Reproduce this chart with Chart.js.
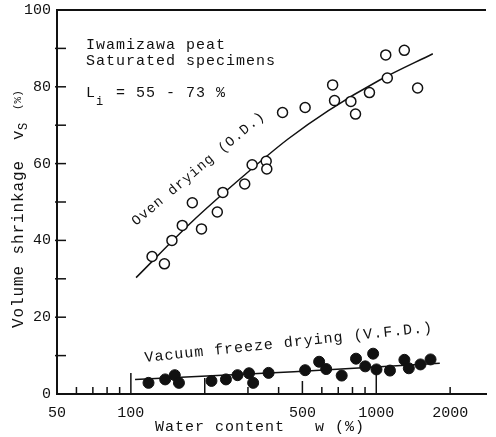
<!DOCTYPE html>
<html lang="en">
<head>
    <meta charset="UTF-8">
    <title>Volume shrinkage vs water content</title>
    <script src="https://cdn.jsdelivr.net/npm/chart.js"></script>
    <style>
        html, body { margin: 0; padding: 0; background: #fff; }
    </style>
</head>
<body>
    <canvas id="myChart" width="496" height="437"></canvas>
    <script>
        // oven drying (O.D.) - open circles
        const odWater  = [122, 137, 147, 162, 178, 194, 225, 237, 291, 312, 356, 358, 415, 513, 664, 676, 788, 823, 938, 1109, 1093, 1301, 1474];
        const odShrink = [35.8, 33.9, 40.0, 43.9, 49.8, 43.0, 47.4, 52.5, 54.7, 59.7, 60.6, 58.6, 73.3, 74.6, 80.5, 76.4, 76.2, 72.9, 78.5, 82.3, 88.3, 89.5, 79.7];

        // vacuum freeze drying (V.F.D.) - solid circles
        const vfdWater  = [118, 138, 151, 157, 213, 244, 272, 303, 315, 364, 513, 585, 625, 723, 827, 902, 971, 1002, 1137, 1302, 1357, 1514, 1664];
        const vfdShrink = [2.9, 3.8, 4.9, 2.9, 3.4, 3.8, 4.9, 5.4, 2.9, 5.5, 6.2, 8.4, 6.5, 4.8, 9.2, 7.2, 10.5, 6.4, 6.1, 8.9, 6.7, 7.7, 9.0];

        // hand drawn trend lines
        const odFitWater  = [105, 177, 289, 437, 638, 1029, 1700];
        const odFitShrink = [30.3, 44.8, 56.9, 66.4, 73.8, 81.7, 88.6];
        const vfdFitWater  = [104, 462, 1815];
        const vfdFitShrink = [3.8, 5.8, 8.0];

        // axis labels / tick marks
        const xLabels = [50, 100, 500, 1000, 2000];
        const xMarks  = [60, 70, 80, 90, 100, 200, 300, 400, 500, 600, 700, 800, 900, 1000, 2000];
        const yMarks  = [10, 20, 30, 40, 50, 60, 70, 80, 90];

        const pts = (xs, ys) => xs.map((v, i) => ({ x: v, y: ys[i] }));
        const MONO = "'Liberation Mono', 'DejaVu Sans Mono', monospace";
        const INK = '#111';

        function say(ctx, s, x, y, size, angle, spacing) {
            ctx.save();
            ctx.translate(x, y);
            if (angle) ctx.rotate(angle * Math.PI / 180);
            ctx.font = size + 'px ' + MONO;
            ctx.letterSpacing = (spacing || 0) + 'px';
            ctx.fillText(s, 0, 0);
            ctx.restore();
        }

        // frame top, inner ticks and all the typed text
        const decor = {
            id: 'decor',
            afterDraw(chart) {
                const { ctx, chartArea: a, scales: { x, y } } = chart;
                ctx.save();
                ctx.strokeStyle = INK;
                ctx.fillStyle = INK;
                ctx.lineWidth = 2;
                ctx.beginPath();
                ctx.moveTo(a.left - 1, a.top);
                ctx.lineTo(a.right, a.top);
                ctx.stroke();

                ctx.lineWidth = 1.5;
                const longer = { 100: 21, 200: 16, 500: 13, 1000: 24 };
                xMarks.forEach(v => {
                    const px = x.getPixelForValue(v);
                    ctx.beginPath();
                    ctx.moveTo(px, a.bottom);
                    ctx.lineTo(px, a.bottom - (longer[v] || 7));
                    ctx.stroke();
                });
                yMarks.forEach(v => {
                    const py = y.getPixelForValue(v);
                    ctx.beginPath();
                    ctx.moveTo(a.left - 2, py);
                    ctx.lineTo(a.left + 9, py);
                    ctx.stroke();
                });

                ctx.textBaseline = 'alphabetic';
                say(ctx, 'Iwamizawa peat', 86, 49, 15, 0, 1);
                say(ctx, 'Saturated specimens', 86, 65, 15, 0, 1);
                say(ctx, 'L', 86, 97, 15, 0, 1);
                say(ctx, 'i', 96, 105, 12, 0, 0);
                say(ctx, '= 55 - 73 %', 116, 97, 15, 0, 1);

                say(ctx, 'Oven drying (O.D.)', 136, 226, 14, -40, 1);
                say(ctx, 'Vacuum freeze drying (V.F.D.)', 145, 362, 15, -6, 1);

                say(ctx, 'Water content   w (%)', 155, 431, 15, 0, 1);

                // vertical axis title with subscript
                ctx.save();
                ctx.translate(23, 328);
                ctx.rotate(-Math.PI / 2);
                say(ctx, 'Volume shrinkage', 0, 0, 16, 0, 0.9);
                say(ctx, 'v', 188, 0, 16, 0, 0);
                say(ctx, 'S', 198, 4, 12, 0, 0);
                say(ctx, '(%)', 218, -2, 11, 0, 0);
                ctx.restore();

                ctx.restore();
            }
        };

        const ctx = document.getElementById('myChart').getContext('2d');
        new Chart(ctx, {
            type: 'scatter',
            data: {
                datasets: [
                    {
                        label: 'O.D.',
                        data: pts(odWater, odShrink),
                        pointRadius: 5,
                        pointBorderWidth: 1.5,
                        pointBorderColor: INK,
                        pointBackgroundColor: '#fff',
                        order: 0
                    },
                    {
                        label: 'V.F.D.',
                        data: pts(vfdWater, vfdShrink),
                        pointRadius: 5.5,
                        pointBorderWidth: 1,
                        pointBorderColor: INK,
                        pointBackgroundColor: INK,
                        order: 0
                    },
                    {
                        label: 'O.D. fit',
                        data: pts(odFitWater, odFitShrink),
                        showLine: true,
                        pointRadius: 0,
                        borderColor: INK,
                        borderWidth: 1.5,
                        cubicInterpolationMode: 'monotone',
                        order: 1
                    },
                    {
                        label: 'V.F.D. fit',
                        data: pts(vfdFitWater, vfdFitShrink),
                        showLine: true,
                        pointRadius: 0,
                        borderColor: INK,
                        borderWidth: 1.5,
                        order: 1
                    }
                ]
            },
            options: {
                responsive: false,
                animation: false,
                layout: { padding: { top: 10, right: 0, left: 0, bottom: 0 } },
                plugins: { legend: { display: false }, tooltip: { enabled: false } },
                scales: {
                    x: {
                        type: 'logarithmic',
                        min: 50,
                        max: 2800,
                        grid: { display: false, drawTicks: false },
                        border: { color: INK, width: 2 },
                        ticks: {
                            autoSkip: false,
                            maxRotation: 0,
                            padding: 10,
                            color: INK,
                            font: { family: MONO, size: 15 },
                            callback: v => xLabels.includes(Math.round(v)) ? String(Math.round(v)) : ''
                        },
                        afterFit: s => { s.height = 43; }
                    },
                    y: {
                        min: 0,
                        max: 100,
                        grid: { display: false, drawTicks: false },
                        border: { color: INK, width: 2 },
                        ticks: {
                            stepSize: 20,
                            padding: 6,
                            color: INK,
                            font: { family: MONO, size: 15 }
                        },
                        afterFit: s => { s.width = 57; s.paddingTop = 0; s.paddingBottom = 0; }
                    }
                }
            },
            plugins: [decor]
        });
    </script>
</body>
</html>
